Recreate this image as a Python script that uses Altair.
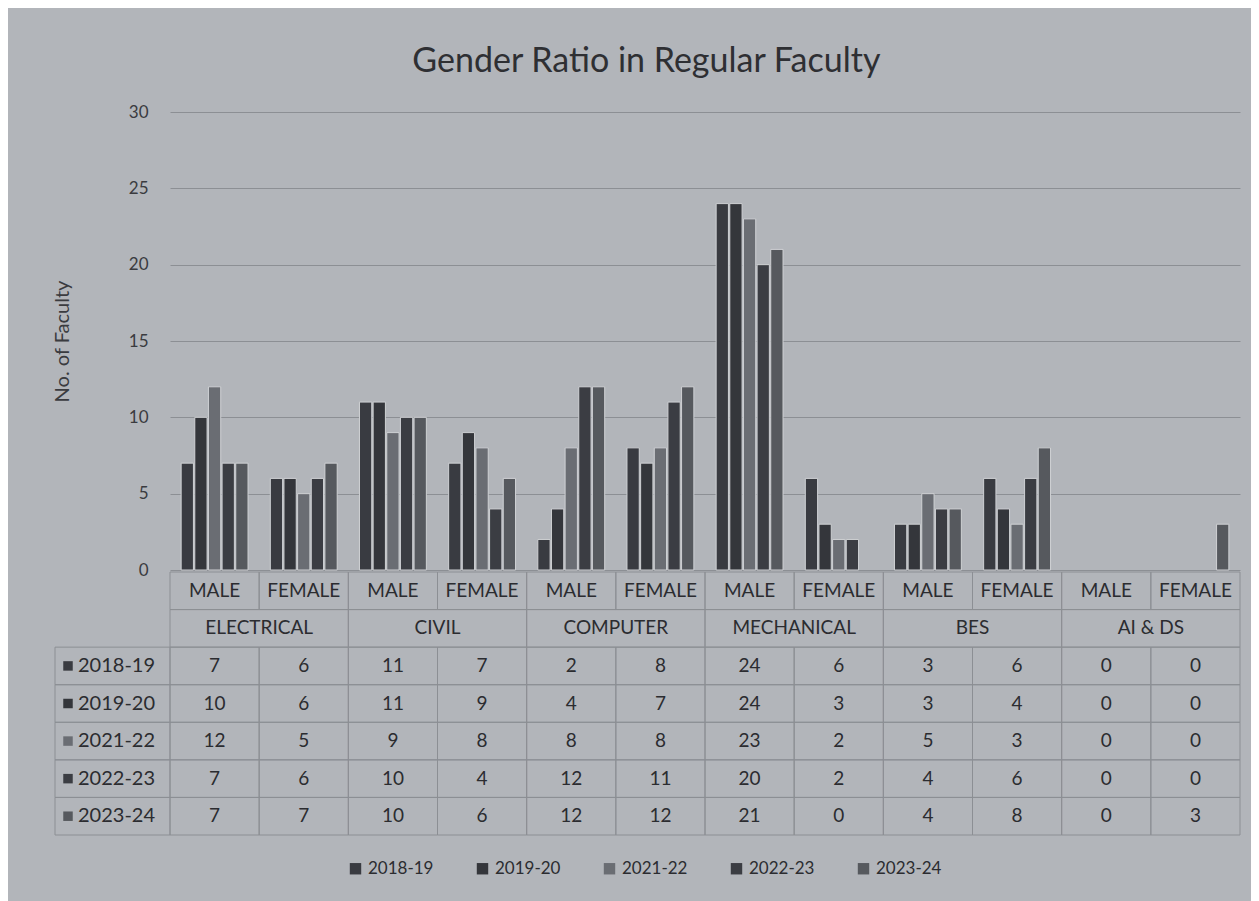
import altair as alt
import pandas as pd

depts = ["ELECTRICAL", "CIVIL", "COMPUTER", "MECHANICAL", "BES", "AI & DS"]
genders = ["MALE", "FEMALE"]
series = ["2018-19", "2019-20", "2021-22", "2022-23", "2023-24"]
colors = ["#393b41", "#34363b", "#6a6d73", "#3b3d43", "#56595e"]

v_2018_19 = [7, 6, 11, 7, 2, 8, 24, 6, 3, 6, 0, 0]
v_2019_20 = [10, 6, 11, 9, 4, 7, 24, 3, 3, 4, 0, 0]
v_2021_22 = [12, 5, 9, 8, 8, 8, 23, 2, 5, 3, 0, 0]
v_2022_23 = [7, 6, 10, 4, 12, 11, 20, 2, 4, 6, 0, 0]
v_2023_24 = [7, 7, 10, 6, 12, 12, 21, 0, 4, 8, 0, 3]
all_vals = [v_2018_19, v_2019_20, v_2021_22, v_2022_23, v_2023_24]

FONT = "Lato"
TXT = "#2b2c30"
LINE = "#8c8f94"
BG = "#b2b5ba"

cats = [f"{d}|{g}" for d in depts for g in genders]

rows = []
for s, vals in zip(series, all_vals):
    for i, c in enumerate(cats):
        rows.append({"cat": c, "idx": i, "series": s, "value": vals[i],
                     "srow": series.index(s) + 2})
df = pd.DataFrame(rows)

color_scale = alt.Scale(domain=series, range=colors)

W = 1070
bars = alt.Chart(df).mark_bar(stroke="#cfd1d4", strokeWidth=1).encode(
    x=alt.X("cat:N", sort=cats, axis=None,
            scale=alt.Scale(paddingInner=0.25, paddingOuter=0.125)),
    xOffset=alt.XOffset("series:N", sort=series, scale=alt.Scale(paddingInner=0.1)),
    y=alt.Y("value:Q", scale=alt.Scale(domain=[0, 30]),
            axis=alt.Axis(values=[0, 5, 10, 15, 20, 25, 30], title="No. of Faculty",
                          domain=False, ticks=False, labelPadding=22,
                          titlePadding=56, gridColor=LINE, gridWidth=1)),
    color=alt.Color("series:N", scale=color_scale, sort=series,
                    legend=alt.Legend(orient="none", direction="horizontal",
                                      legendX=177, legendY=748,
                                      title=None, symbolType="square",
                                      symbolSize=130, symbolStrokeWidth=0,
                                      labelFontSize=17, columnPadding=40)),
    strokeOpacity=alt.condition("datum.value > 0", alt.value(1), alt.value(0)),
).properties(width=W, height=458)

# table cells
cells = []
for i, c in enumerate(cats):
    cells.append({"x0": i, "x1": i + 1, "y0": 0, "y1": 1})
for d in range(len(depts)):
    cells.append({"x0": 2 * d, "x1": 2 * d + 2, "y0": 1, "y1": 2})
for k in range(len(series)):
    for i in range(len(cats)):
        cells.append({"x0": i, "x1": i + 1, "y0": k + 2, "y1": k + 3})
cells_df = pd.DataFrame(cells)

xs = alt.Scale(domain=[0, 12], nice=False, zero=False)
ys = alt.Scale(domain=[0, 7], reverse=True, nice=False, zero=False)

cell_layer = alt.Chart(cells_df).mark_rect(fill=None, stroke=LINE, strokeWidth=1).encode(
    x=alt.X("x0:Q", scale=xs, axis=None), x2="x1:Q",
    y=alt.Y("y0:Q", scale=ys, axis=None), y2="y1:Q")

lab_df = pd.DataFrame({"series": series, "y0": [k + 2 for k in range(5)],
                       "y1": [k + 3 for k in range(5)],
                       "ym": [k + 2.5 for k in range(5)]})
lab_cells = alt.Chart(lab_df).mark_rect(fill=None, stroke=LINE, strokeWidth=1).encode(
    x=alt.value(-115), x2=alt.value(0),
    y=alt.Y("y0:Q", scale=ys, axis=None), y2="y1:Q")
lab_sq = alt.Chart(lab_df).mark_square(size=90, opacity=1).encode(
    x=alt.value(-102), y=alt.Y("ym:Q", scale=ys, axis=None),
    color=alt.Color("series:N", scale=color_scale, sort=series))
lab_txt = alt.Chart(lab_df).mark_text(align="left", font=FONT, fontSize=20, color=TXT,
                                      baseline="middle").encode(
    x=alt.value(-92), y=alt.Y("ym:Q", scale=ys, axis=None), text="series:N")

g_df = pd.DataFrame({"label": [g for d in depts for g in genders],
                     "xm": [i + 0.5 for i in range(12)], "ym": [0.5] * 12})
g_txt = alt.Chart(g_df).mark_text(font=FONT, fontSize=19, color=TXT).encode(
    x=alt.X("xm:Q", scale=xs, axis=None), y=alt.Y("ym:Q", scale=ys, axis=None),
    text="label:N")
d_df = pd.DataFrame({"label": depts, "xm": [2 * d + 1 for d in range(6)],
                     "ym": [1.5] * 6})
d_txt = alt.Chart(d_df).mark_text(font=FONT, fontSize=19, color=TXT).encode(
    x=alt.X("xm:Q", scale=xs, axis=None), y=alt.Y("ym:Q", scale=ys, axis=None),
    text="label:N")
df["xm"] = df["idx"] + 0.5
df["ym"] = df["srow"] + 0.5
v_txt = alt.Chart(df).mark_text(font=FONT, fontSize=19, color=TXT).encode(
    x=alt.X("xm:Q", scale=xs, axis=None), y=alt.Y("ym:Q", scale=ys, axis=None),
    text="value:Q")

table = alt.layer(cell_layer, lab_cells, lab_sq, lab_txt, g_txt, d_txt, v_txt).properties(
    width=W, height=263)

chart = alt.vconcat(bars, table, spacing=2, bounds="flush").properties(
    title=alt.Title("Gender Ratio in Regular Faculty", fontSize=34, font=FONT,
                    fontWeight="normal", color="#2e2f33", anchor="middle",
                    frame="bounds", offset=24),
    background=BG,
    padding={"left": 44, "top": 37, "right": 10, "bottom": 30},
).configure_view(stroke=None).configure_axis(
    labelFont=FONT, titleFont=FONT, labelFontSize=17, titleFontSize=20,
    labelColor="#3a3b3f", titleColor="#3a3b3f", titleFontWeight="normal",
).configure_legend(labelFont=FONT, labelColor=TXT)

chart.save("out.html", embed_options={"renderer": "svg", "actions": False})
